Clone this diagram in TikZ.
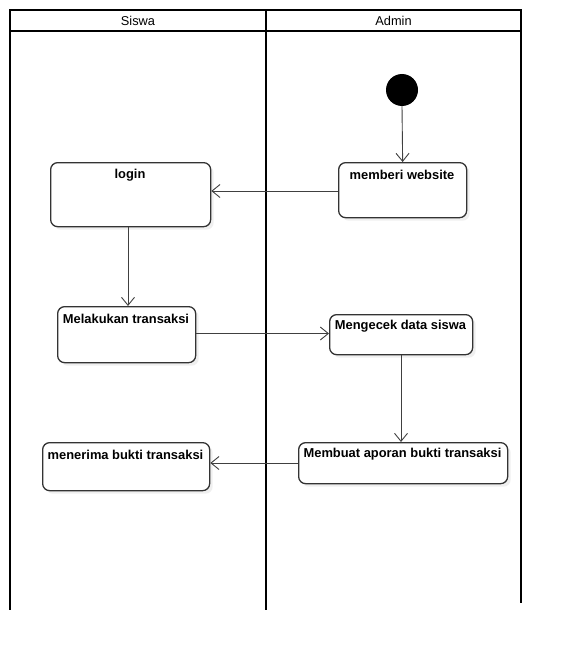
\documentclass[tikz,border=0pt]{standalone}
\usepackage{fontspec}
\setmainfont{Liberation Sans}
\usetikzlibrary{arrows.meta,shadows}
\begin{document}
\begin{tikzpicture}[x=1pt,y=-1pt,
  act/.style={draw=black!80, line width=1.3pt, rounded corners=7pt, fill=white, anchor=north west,
    drop shadow={opacity=0.12,shadow xshift=3pt,shadow yshift=-3pt}},
  lane/.style={line width=1.8pt, draw=black},
  flow/.style={draw=black!75, line width=0.9pt, -{Straight Barb[length=8pt,width=13pt,line width=0.9pt]}},
  lbl/.style={font=\fontsize{12.9}{15}\selectfont\bfseries, inner sep=0pt, anchor=center},
  hdr/.style={font=\fontsize{12.8}{15}\selectfont, inner sep=0pt, anchor=center},
  ]
\fill[white] (0,0) rectangle (562,650);
\useasboundingbox (0,0) rectangle (562,650);

% swimlanes
\draw[lane] (10,10) rectangle (521,31);
\draw[lane] (10,31) -- (10,610);
\draw[lane] (266,10) -- (266,610);
\draw[lane] (521,31) -- (521,603);
\node[hdr] (hsiswa) at (138,20.5) {Siswa};
\node[hdr] (hadmin) at (393.5,20.5) {Admin};

% initial node
\node[circle, fill=black, minimum size=32pt, inner sep=0pt] (start) at (402,90) {};

% activities
\node[act, minimum width=128pt, minimum height=55pt] (web) at (338,162) {};
\node[lbl] (webt) at (402,175) {memberi website};

\node[act, minimum width=160pt, minimum height=64pt] (login) at (50,162) {};
\node[lbl] (logint) at (130,175) {login};

\node[act, minimum width=138pt, minimum height=56pt] (mel) at (57,306) {};
\node[lbl] (melt) at (126,319) {Melakukan transaksi};

\node[act, minimum width=143pt, minimum height=40pt] (check) at (329,314) {};
\node[lbl] (checkt) at (400.5,326) {Mengecek data siswa};

\node[act, minimum width=209pt, minimum height=41pt] (report) at (298,442) {};
\node[lbl] (reportt) at (402.5,454) {Membuat aporan bukti transaksi};

\node[act, minimum width=167pt, minimum height=48pt] (recv) at (42,442) {};
\node[lbl] (recvt) at (125.5,455) {menerima bukti transaksi};

% connectors
\draw[flow] (start.south) -- (web.north);
\draw[flow] (web.west |- 0,191) -- (login.east |- 0,191);
\draw[flow] (login.south -| 128,0) -- (mel.north -| 128,0);
\draw[flow] (mel.east |- 0,333.5) -- (check.west |- 0,333.5);
\draw[flow] (check.south -| 401,0) -- (report.north -| 401,0);
\draw[flow] (report.west |- 0,463) -- (recv.east |- 0,463);
\end{tikzpicture}
\end{document}
